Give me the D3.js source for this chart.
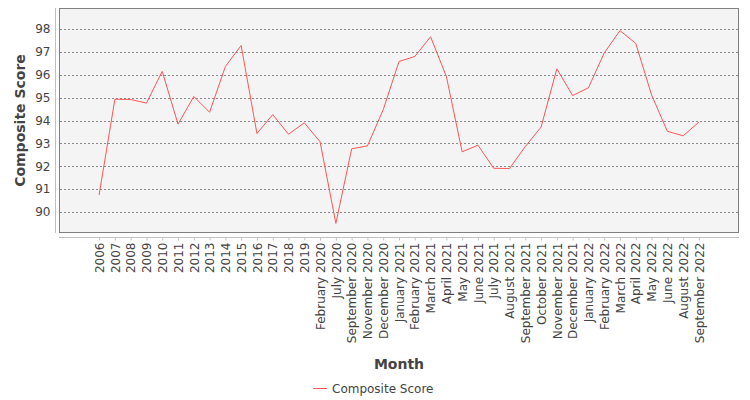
<!DOCTYPE html>
<html>
<head>
<meta charset="utf-8">
<script src="https://cdn.jsdelivr.net/npm/d3@7"></script>
<style>
  body { margin: 0; background: #fff; }
  text { font-family: "DejaVu Sans", sans-serif; }
</style>
</head>
<body>
<div id="chart"></div>
<script>
// months along the x axis
let months = ["2006", "2007", "2008", "2009", "2010", "2011", "2012", "2013", "2014", "2015",
  "2016", "2017", "2018", "2019", "February 2020", "July 2020", "September 2020", "November 2020",
  "December 2020", "January 2021", "February 2021", "March 2021", "April 2021", "May 2021",
  "June 2021", "July 2021", "August 2021", "September 2021", "October 2021", "November 2021",
  "December 2021", "January 2022", "February 2022", "March 2022", "April 2022", "May 2022",
  "June 2022", "August 2022", "September 2022"];

let scores = [90.74, 94.93, 94.92, 94.76, 96.15, 93.84, 95.05, 94.36, 96.36, 97.28,
  93.43, 94.26, 93.40, 93.90, 93.07, 89.50, 92.76, 92.89,
  94.47, 96.58, 96.80, 97.66, 95.93, 92.63,
  92.92, 91.91, 91.90, 92.86, 93.71, 96.26,
  95.09, 95.43, 96.95, 97.93, 97.37, 95.12,
  93.53, 93.33, 93.93];

let yTicks = [90, 91, 92, 93, 94, 95, 96, 97, 98];

let w = 750, h = 400;
let plot = {left: 59, right: 739, top: 8, bottom: 233}; // plot rectangle

let svg = d3.select('#chart')
  .append('svg')
  .attr('width', w)
  .attr('height', h);

let xScale = d3.scalePoint()
  .domain(months)
  .range([plot.left, plot.right])
  .padding(2.54);

let yScale = d3.scaleLinear()
  .domain([89.08, 98.92])
  .range([plot.bottom, plot.top]);

// background + border
svg.append('rect')
  .attr('x', plot.left + 0.5).attr('y', plot.top + 0.5)
  .attr('width', plot.right - plot.left - 1).attr('height', plot.bottom - plot.top - 1)
  .attr('fill', '#f4f4f4')
  .attr('stroke', '#808080')
  .attr('stroke-width', 1);

// dashed gridlines
svg.append('g')
  .selectAll('line')
  .data(yTicks)
  .enter()
  .append('line')
  .attr('x1', plot.left + 1).attr('x2', plot.right - 1)
  .attr('y1', d => Math.round(yScale(d)) + 0.5)
  .attr('y2', d => Math.round(yScale(d)) + 0.5)
  .attr('stroke', '#8a8a8a')
  .attr('stroke-width', 1)
  .attr('stroke-dasharray', '2,2');

// y axis
let yAxis = d3.axisLeft(yScale).tickValues(yTicks).tickSize(0).tickPadding(5);
let gy = svg.append('g')
  .attr('transform', 'translate(55.5,0)')
  .call(yAxis);
gy.select('.domain').attr('stroke', '#c0c0c0').attr('d', 'M0,' + plot.top + 'V' + plot.bottom);
gy.selectAll('text').attr('fill', '#444').style('font-size', '12px');

// x axis
let xAxis = d3.axisBottom(xScale).tickSize(3).tickSizeOuter(0);
let gx = svg.append('g')
  .attr('transform', 'translate(0,237.5)')
  .call(xAxis);
gx.select('.domain').attr('stroke', '#c0c0c0').attr('d', 'M' + plot.left + ',0H' + plot.right);
gx.selectAll('.tick line').attr('stroke', '#c0c0c0');
gx.selectAll('text')
  .attr('fill', '#444')
  .style('font-size', '12px')
  .attr('transform', 'rotate(-90)')
  .attr('text-anchor', 'end')
  .attr('x', -5)
  .attr('y', 0)
  .attr('dy', '0.35em');

// the line
let line = d3.line()
  .x((d, i) => xScale(months[i]))
  .y(d => yScale(d));

svg.append('path')
  .datum(scores)
  .attr('d', line)
  .attr('fill', 'none')
  .attr('stroke', '#ff5555')
  .attr('stroke-width', 1);

// axis titles
svg.append('text')
  .attr('transform', 'translate(25,' + ((plot.top + plot.bottom) / 2) + ') rotate(-90)')
  .attr('text-anchor', 'middle')
  .style('font-size', '14px')
  .style('font-weight', 'bold')
  .attr('fill', '#444')
  .text('Composite Score');

svg.append('text')
  .attr('x', (plot.left + plot.right) / 2)
  .attr('y', 369)
  .attr('text-anchor', 'middle')
  .style('font-size', '14px')
  .style('font-weight', 'bold')
  .attr('fill', '#444')
  .text('Month');

// legend
svg.append('line')
  .attr('x1', 313).attr('x2', 327)
  .attr('y1', 388.5).attr('y2', 388.5)
  .attr('stroke', '#ff5555');
svg.append('text')
  .attr('x', 332)
  .attr('y', 392.5)
  .style('font-size', '12px')
  .attr('fill', '#444')
  .text('Composite Score');
</script>
</body>
</html>
